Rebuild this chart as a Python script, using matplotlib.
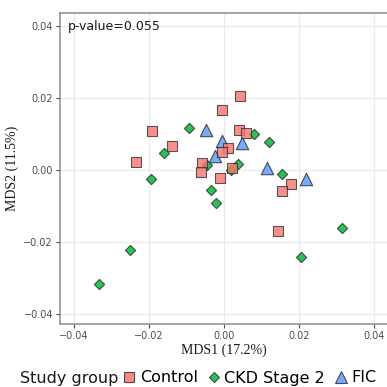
import matplotlib
matplotlib.use("Agg")
import matplotlib.pyplot as plt
from matplotlib.lines import Line2D

# MDS coordinates
ctrl_x = [-0.0193, -0.0138, -0.0004, -0.0235, 0.0044, 0.0041, 0.0060, 0.0010,
          -0.0004, -0.0058, -0.0062, -0.0011, 0.0021, 0.0178, 0.0156, 0.0143]
ctrl_y = [0.0109, 0.0067, 0.0168, 0.0022, 0.0205, 0.0112, 0.0103, 0.0062,
          0.0050, 0.0020, -0.0005, -0.0022, 0.0005, -0.0039, -0.0058, -0.0170]

ckd_x = [-0.0093, -0.0159, 0.0080, 0.0119, 0.0038, 0.0018, -0.0195, -0.0044,
         -0.0035, -0.0022, -0.0250, -0.0333, 0.0155, 0.0314, 0.0205]
ckd_y = [0.0118, 0.0047, 0.0100, 0.0077, 0.0017, 0.0000, -0.0026, 0.0014,
         -0.0057, -0.0093, -0.0223, -0.0317, -0.0010, -0.0163, -0.0243]

fic_x = [-0.0049, -0.0006, 0.0047, -0.0024, 0.0114, 0.0220]
fic_y = [0.0110, 0.0081, 0.0075, 0.0039, 0.0005, -0.0026]

groups = ["Control", "CKD Stage 2", "FIC"]
colors = ["#F8766D", "#00BA38", "#619CFF"]
xticks = [-0.04, -0.02, 0.00, 0.02, 0.04]
yticks = [-0.04, -0.02, 0.00, 0.02, 0.04]
p_value = "p-value=0.055"

EDGE = "#333333"
GRID = "#EBEBEB"
SPINE = "#8C8C8C"

fig = plt.figure(figsize=(3.87, 3.87), dpi=100, facecolor="white")
ax = fig.add_axes([60 / 387, 63 / 387, 1 - 60 / 387, (324 - 13) / 387])

ax.scatter(ckd_x, ckd_y, marker="D", s=27, color=colors[1], alpha=0.85,
           edgecolors=EDGE, linewidths=0.8, zorder=3)
ax.scatter(fic_x, fic_y, marker="^", s=80, color=colors[2], alpha=0.85,
           edgecolors=EDGE, linewidths=0.8, zorder=3)
ax.scatter(ctrl_x, ctrl_y, marker="s", s=55, color=colors[0], alpha=0.8,
           edgecolors=EDGE, linewidths=0.8, zorder=3)

ax.set_xlim(-0.0437, 0.0435)
ax.set_ylim(-0.0429, 0.0437)
ax.set_xticks(xticks)
ax.set_yticks(yticks)
ax.set_xticklabels([f"{t:.2f}".replace("-", "\u2212") for t in xticks])
ax.set_yticklabels([f"{t:.2f}".replace("-", "\u2212") for t in yticks])
ax.tick_params(labelsize=7, colors="#4D4D4D", length=3, width=0.8, pad=2)
ax.grid(True, color=GRID, linewidth=1.0, zorder=0)
ax.set_axisbelow(True)
for side in ["left", "top", "bottom"]:
    ax.spines[side].set_color(SPINE)
    ax.spines[side].set_linewidth(1.1)
ax.spines["right"].set_visible(False)

ax.set_xlabel("MDS1 (17.2%)", family="Liberation Serif", fontsize=10,
              color="#1A1A1A", labelpad=2)
ax.set_ylabel("MDS2 (11.5%)", family="Liberation Serif", fontsize=10,
              color="#1A1A1A", labelpad=3)

ax.text(0.025, 0.955, p_value, transform=ax.transAxes, fontsize=9,
        ha="left", va="center", color="#1A1A1A")

# legend along the bottom, title on the left
fig.text(20 / 387, 1 - 378 / 387, "Study group", fontsize=11.5,
         ha="left", va="center", color="#1A1A1A")
handles = [
    Line2D([], [], ls="none", marker="s", ms=7.5, mfc=colors[0], mec=EDGE, mew=0.8, alpha=0.85),
    Line2D([], [], ls="none", marker="D", ms=5.5, mfc=colors[1], mec=EDGE, mew=0.8, alpha=0.85),
    Line2D([], [], ls="none", marker="^", ms=9, mfc=colors[2], mec=EDGE, mew=0.8, alpha=0.85),
]
fig.legend(handles, groups, loc="center left", bbox_to_anchor=(123 / 387, 1 - 378 / 387),
           ncol=3, frameon=False, fontsize=11.5, handlelength=0.8,
           handletextpad=0.25, columnspacing=0.6, borderpad=0, borderaxespad=0)

fig.savefig("out.png", dpi=100, facecolor="white")
